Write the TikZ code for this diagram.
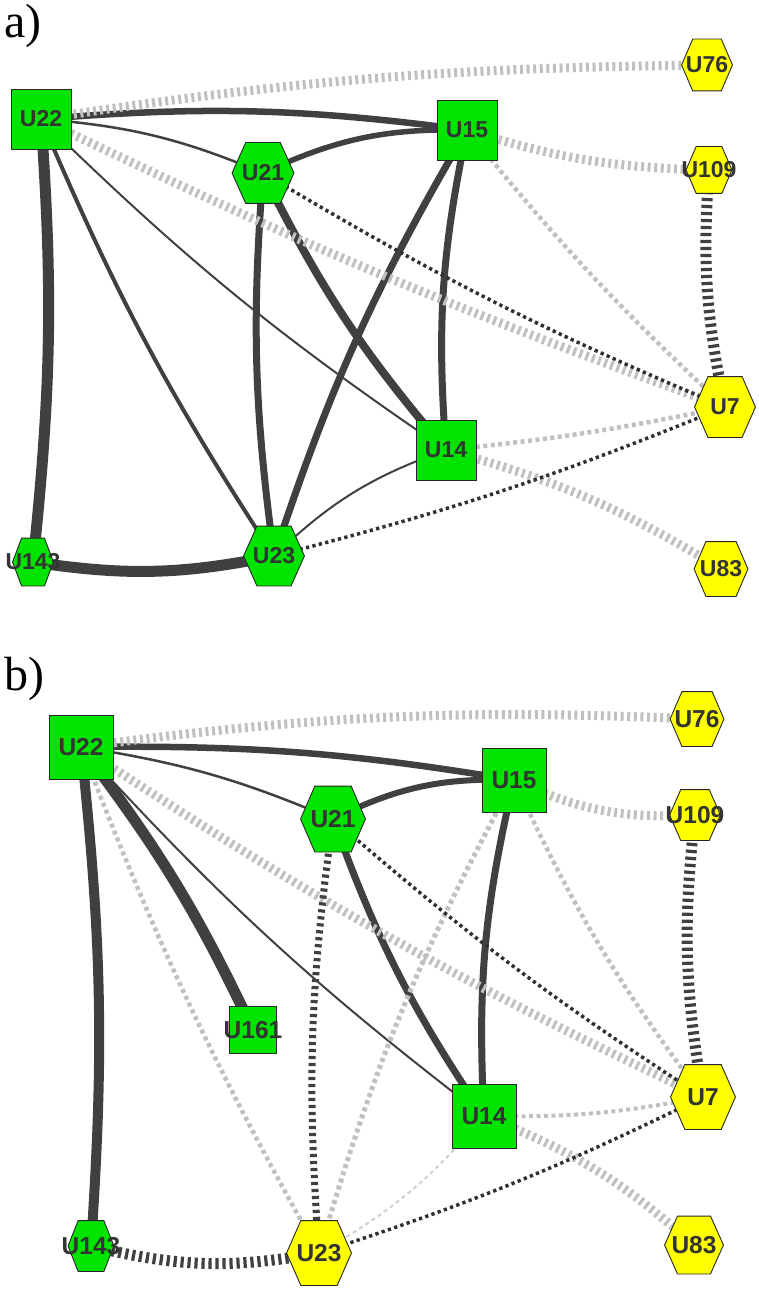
\documentclass[tikz,border=0pt]{standalone}
\usepackage{fontspec}
\setmainfont{Liberation Serif}
\setsansfont{Liberation Sans}
\usetikzlibrary{positioning,backgrounds}
\definecolor{usrgrn}{HTML}{00E400}
\definecolor{usrylw}{HTML}{FFFF00}
\definecolor{linkdrk}{HTML}{404040}
\definecolor{dotdrk}{HTML}{303030}
\definecolor{linklgt}{HTML}{C0C0C0}
\definecolor{txtdrk}{HTML}{333333}

\makeatletter
\pgfdeclareshape{hexbox}{%
  \inheritsavedanchors[from=rectangle]%
  \inheritanchorborder[from=rectangle]%
  \inheritanchor[from=rectangle]{center}%
  \inheritanchor[from=rectangle]{north}%
  \inheritanchor[from=rectangle]{south}%
  \inheritanchor[from=rectangle]{east}%
  \inheritanchor[from=rectangle]{west}%
  \inheritanchor[from=rectangle]{north east}%
  \inheritanchor[from=rectangle]{north west}%
  \inheritanchor[from=rectangle]{south east}%
  \inheritanchor[from=rectangle]{south west}%
  \backgroundpath{%
    \southwest\pgf@xa=\pgf@x\pgf@ya=\pgf@y
    \northeast\pgf@xb=\pgf@x\pgf@yb=\pgf@y
    \pgf@xc=\pgf@xb\advance\pgf@xc by-\pgf@xa
    \pgf@xc=0.22\pgf@xc
    \pgf@yc=0.5\pgf@ya\advance\pgf@yc by0.5\pgf@yb
    \edef\hexl{\the\pgf@xa}\edef\hexr{\the\pgf@xb}%
    \advance\pgf@xa by\pgf@xc\advance\pgf@xb by-\pgf@xc
    \edef\hexil{\the\pgf@xa}\edef\hexir{\the\pgf@xb}%
    \edef\hexb{\the\pgf@ya}\edef\hext{\the\pgf@yb}\edef\hexm{\the\pgf@yc}%
    \pgfpathmoveto{\pgfqpoint{\hexl}{\hexm}}%
    \pgfpathlineto{\pgfqpoint{\hexil}{\hext}}%
    \pgfpathlineto{\pgfqpoint{\hexir}{\hext}}%
    \pgfpathlineto{\pgfqpoint{\hexr}{\hexm}}%
    \pgfpathlineto{\pgfqpoint{\hexir}{\hexb}}%
    \pgfpathlineto{\pgfqpoint{\hexil}{\hexb}}%
    \pgfpathclose
  }%
}
\makeatother

\newcommand{\usrsize}{23}

\begin{document}
\begin{tikzpicture}[x=1pt, y=1pt, on grid,
	usr/.style={draw=black!85, line width=0.9pt, inner sep=0pt, text=txtdrk, font=\sffamily\bfseries\fontsize{\usrsize}{\usrsize}\selectfont, execute at begin node={\hbox to 0pt\bgroup\hss}, execute at end node={\hss\egroup}},
	sq/.style={usr, rectangle, fill=usrgrn, minimum size=#1pt},
	hx/.style 2 args={usr, hexbox, minimum width=#1pt, minimum height=#2pt},
	panel/.style={anchor=base west, inner sep=0pt, font=\rmfamily\fontsize{48}{48}\selectfont},
	tie/.style={linkdrk, line width=#1},
	tiedot/.style={dotdrk, line width=3.5pt, dash pattern=on 3.3pt off 3.3pt},
	tiedash/.style={linkdrk, line width=#1, dash pattern=on 3.2pt off 3.8pt},
	faintdot/.style={linklgt, line width=#1, dash pattern=on 4pt off 3.5pt},
	faintdash/.style={linklgt, line width=9pt, dash pattern=on 3pt off 3.6pt}]
	\useasboundingbox (0,0) rectangle (759,-1289);

	\node[panel] (pa) at (4,-38) {a)};
	\node[panel] (pb) at (4,-690) {b)};

	\node[sq=60] (a22) at (41,-119) {U22};
	\node[hx={61}{60}, fill=usrgrn, below right=54pt and 222pt of a22] (a21) {U21};
	\node[sq=60, above right=43pt and 204pt of a21] (a15) {U15};
	\node[hx={50}{51}, fill=usrylw, above right=65pt and 240pt of a15] (a76) {U76};
	\node[hx={45}{46}, fill=usrylw, below right=105pt and 2pt of a76] (a109) {U109};
	\node[hx={60}{60}, fill=usrylw, below right=237pt and 16pt of a109] (a7) {U7};
	\node[sq=60, below left=320pt and 21pt of a15] (a14) {U14};
	\node[hx={53}{54}, fill=usrylw, below right=119pt and 275pt of a14] (a83) {U83};
	\node[hx={60}{59}, fill=usrgrn, below left=106pt and 172pt of a14] (a23) {U23};
	\node[hx={40}{47}, fill=usrgrn, below left=6pt and 241pt of a23] (a143) {U143};

	\renewcommand{\usrsize}{24.5}
	\node[sq=64] (b22) at (81,-747) {U22};
	\node[hx={64}{65}, fill=usrgrn, below right=72pt and 252pt of b22] (b21) {U21};
	\node[sq=64, above right=39pt and 181pt of b21] (b15) {U15};
	\node[hx={53}{54}, fill=usrylw, above right=61pt and 183pt of b15] (b76) {U76};
	\node[hx={50}{50}, fill=usrylw, below left=96pt and 2pt of b76] (b109) {U109};
	\node[hx={64}{64}, fill=usrylw, below right=282pt and 8pt of b109] (b7) {U7};
	\node[sq=64, below left=336pt and 30pt of b15] (b14) {U14};
	\node[hx={58}{57}, fill=usrylw, below right=129pt and 210pt of b14] (b83) {U83};
	\node[hx={64}{64}, fill=usrylw, below left=137pt and 165pt of b14] (b23) {U23};
	\node[hx={45}{50}, fill=usrgrn, above left=7pt and 228pt of b23] (b143) {U143};
	\node[sq=47, below right=283pt and 172pt of b22] (b161) {U161};

	\begin{scope}[on background layer]
	\draw[tie=6.5pt] (a22.center) to[bend left=6] (a15.center);
	\draw[tie=2.5pt] (a22.center) to[bend left=9] (a21.center);
	\draw[tie=5.5pt] (a21.center) to[bend left=13] (a15.center);
	\draw[tie=11pt] (a22.center) to[bend left=5] (a143.center);
	\draw[tie=4pt] (a22.center) to[bend right=5] (a23.center);
	\draw[tie=2pt] (a22.center) to[bend right=5] (a14.center);
	\draw[tie=7pt] (a21.center) to[bend right=6] (a23.center);
	\draw[tie=8pt] (a21.center) to[bend right=7] (a14.center);
	\draw[tie=7pt] (a15.center) to[bend right=6] (a23.center);
	\draw[tie=7pt] (a15.center) to[bend right=8] (a14.center);
	\draw[tie=2pt] (a14.center) to[bend right=12] (a23.center);
	\draw[tie=11pt] (a143.center) to[bend right=10] (a23.center);
	\draw[faintdash] (a22.center) to[bend left=4] (a76.center);
	\draw[faintdash] (a22.center) to[bend right=3] (a7.center);
	\draw[faintdash] (a15.center) to[bend right=8] (a109.center);
	\draw[faintdash] (a14.center) to[bend left=8] (a83.center);
	\draw[faintdot=4.5pt] (a15.center) to[bend right=4] (a7.center);
	\draw[faintdot=4.5pt] (a14.center) to[bend right=3] (a7.center);
	\draw[tiedot] (a21.center) to[bend right=4] (a7.center);
	\draw[tiedot] (a23.center) to[bend right=4] (a7.center);
	\draw[tiedash=11pt] (a109.center) to[bend right=8] (a7.center);

	\draw[tie=6.5pt] (b22.center) to[bend left=5] (b15.center);
	\draw[tie=2.5pt] (b22.center) to[bend left=7] (b21.center);
	\draw[tie=6pt] (b21.center) to[bend left=14] (b15.center);
	\draw[tie=10pt] (b22.center) to[bend left=5] (b143.center);
	\draw[tie=11pt] (b22.center) to[bend left=6] (b161.center);
	\draw[tie=2pt] (b22.center) to[bend right=5] (b14.center);
	\draw[tie=7pt] (b21.center) to[bend right=7] (b14.center);
	\draw[tie=7pt] (b15.center) to[bend right=8] (b14.center);
	\draw[faintdash] (b22.center) to[bend left=5] (b76.center);
	\draw[faintdash] (b15.center) to[bend right=14] (b109.center);
	\draw[faintdash] (b22.center) to[bend right=4] (b7.center);
	\draw[faintdash] (b14.center) to[bend left=10] (b83.center);
	\draw[faintdot=4.5pt] (b22.center) to[bend right=4] (b23.center);
	\draw[faintdot=5pt] (b15.center) to[bend right=6] (b23.center);
	\draw[faintdot=4.5pt] (b15.center) to[bend right=6] (b7.center);
	\draw[faintdot=4pt] (b14.center) to[bend right=6] (b7.center);
	\draw[faintdot=2pt, linklgt!75] (b14.center) to[bend left=10] (b23.center);
	\draw[tiedot] (b21.center) to[bend right=4] (b7.center);
	\draw[tiedot] (b23.center) to[bend right=4] (b7.center);
	\draw[tiedash=7pt] (b21.center) to[bend right=6] (b23.center);
	\draw[tiedash=11pt] (b109.center) to[bend right=8] (b7.center);
	\draw[tiedash=11pt] (b143.center) to[bend right=12] (b23.center);
	\end{scope}
\end{tikzpicture}
\end{document}
